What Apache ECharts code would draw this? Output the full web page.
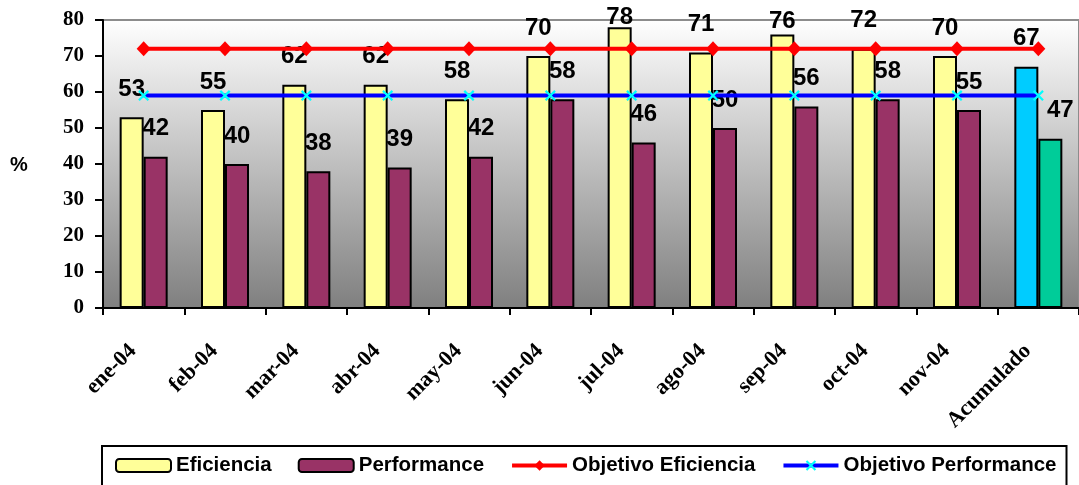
<!DOCTYPE html>
<html>
<head>
<meta charset="utf-8">
<script src="https://cdn.jsdelivr.net/npm/echarts@6/dist/echarts.min.js"></script>
<style>
  html, body { margin: 0; padding: 0; background: #ffffff; }
  #chart { width: 1079px; height: 485px; }
</style>
</head>
<body>
<div id="chart"></div>
<script>
// Monthly efficiency / performance figures for 2004, plus the cumulative total
const categories = ['ene-04', 'feb-04', 'mar-04', 'abr-04', 'may-04', 'jun-04',
                    'jul-04', 'ago-04', 'sep-04', 'oct-04', 'nov-04', 'Acumulado'];
const eficiencia  = [53, 55, 62, 62, 58, 70, 78, 71, 76, 72, 70, 67];
const performance = [42, 40, 38, 39, 42, 58, 46, 50, 56, 58, 55, 47];
const objetivoEficiencia  = [72, 72, 72, 72, 72, 72, 72, 72, 72, 72, 72, 72];
const objetivoPerformance = [59, 59, 59, 59, 59, 59, 59, 59, 59, 59, 59, 59];
const yTicks = [0, 10, 20, 30, 40, 50, 60, 70, 80];

const SANS = 'Liberation Sans, Arial, sans-serif';
const SERIF = 'Liberation Serif, Times New Roman, serif';
const lastIdx = categories.length - 1;

// Labels near the top edge are pulled down so they stay inside the chart
const efLabelTweaks = { 6: { distance: -2 }, 8: { distance: 1 } };
const perfLabelTweaks = { 11: { offset: [10, 0] } };

function barItems(values, totalColor, tweaks) {
  return values.map((v, i) => {
    const item = { value: v };
    if (i === lastIdx) item.itemStyle = { color: totalColor };
    if (tweaks[i]) item.label = tweaks[i];
    return item;
  });
}

const xMark = 'path://M0,1.4L1.4,0L5,3.6L8.6,0L10,1.4L6.4,5L10,8.6L8.6,10L5,6.4L1.4,10L0,8.6L3.6,5Z';

const chart = echarts.init(document.getElementById('chart'), null, { renderer: 'canvas' });

const barLabel = {
  show: true,
  position: 'top',
  distance: 16,
  color: '#000',
  fontFamily: SANS,
  fontWeight: 'bold',
  fontSize: 24
};

chart.setOption({
  animation: false,
  backgroundColor: '#ffffff',
  grid: {
    left: 103, right: -3, top: 20, bottom: 177,
    show: true,
    borderColor: '#8c8c8c',
    borderWidth: 2,
    backgroundColor: {
      type: 'linear', x: 0, y: 0, x2: 0, y2: 1,
      colorStops: [
        { offset: 0, color: '#ffffff' },
        { offset: 1, color: '#7f7f7f' }
      ]
    }
  },
  graphic: [{
    type: 'text',
    left: 10, top: 155,
    style: { text: '%', fill: '#000', font: 'bold 20px ' + SANS }
  }],
  legend: {
    left: 102, top: 446,
    orient: 'horizontal',
    itemWidth: 55, itemHeight: 13,
    itemGap: 26,
    padding: [9, 10, 10, 13],
    borderColor: '#000', borderWidth: 2,
    backgroundColor: '#ffffff',
    textStyle: { fontFamily: SANS, fontWeight: 'bold', fontSize: 20.5, color: '#000' },
    data: [
      'Eficiencia',
      'Performance',
      { name: 'Objetivo Eficiencia', lineStyle: { width: 4 } },
      { name: 'Objetivo Performance', lineStyle: { width: 4 } }
    ]
  },
  xAxis: {
    type: 'category',
    data: categories,
    axisLine: { lineStyle: { color: '#000', width: 2 } },
    axisTick: { show: true, length: 7, lineStyle: { color: '#000', width: 2 } },
    axisLabel: {
      interval: 0, rotate: 45, margin: 29,
      padding: [0, 15, 0, 0],
      color: '#000', fontFamily: SERIF, fontWeight: 'bold', fontSize: 22
    },
    splitLine: { show: false }
  },
  yAxis: {
    type: 'value',
    min: yTicks[0], max: yTicks[yTicks.length - 1], interval: 10,
    axisLine: { show: true, lineStyle: { color: '#000', width: 2 } },
    axisTick: { show: true, length: 8, lineStyle: { color: '#000', width: 2 } },
    axisLabel: { margin: 19, color: '#000', fontFamily: SERIF, fontWeight: 'bold', fontSize: 21 },
    splitLine: { show: false }
  },
  series: [
    {
      name: 'Eficiencia', type: 'bar',
      barWidth: 24, barGap: '0%',
      itemStyle: { color: '#ffff99', borderColor: '#000', borderWidth: 2 },
      label: barLabel,
      data: barItems(eficiencia, '#00ccff', efLabelTweaks)
    },
    {
      name: 'Performance', type: 'bar',
      barWidth: 24, barGap: '0%',
      itemStyle: { color: '#993366', borderColor: '#000', borderWidth: 2 },
      label: barLabel,
      data: barItems(performance, '#00cc99', perfLabelTweaks)
    },
    {
      name: 'Objetivo Eficiencia', type: 'line',
      symbol: 'diamond', symbolSize: [14, 15],
      lineStyle: { color: '#ff0000', width: 4 },
      itemStyle: { color: '#ff0000' },
      z: 3,
      data: objetivoEficiencia
    },
    {
      name: 'Objetivo Performance', type: 'line',
      symbol: xMark, symbolSize: 11,
      lineStyle: { color: '#0000ff', width: 4 },
      itemStyle: { color: '#00ffff' },
      z: 3,
      data: objetivoPerformance
    }
  ]
});
</script>
</body>
</html>
